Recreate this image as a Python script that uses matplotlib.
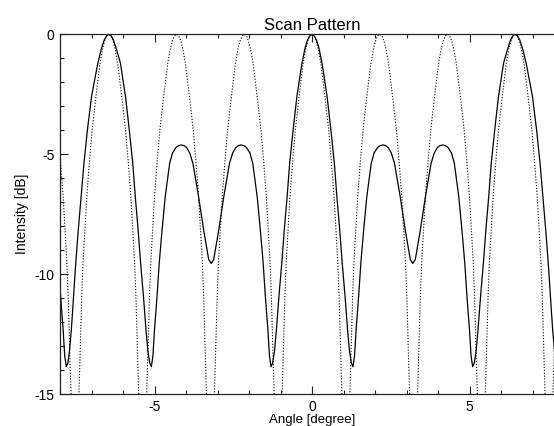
import numpy as np
import matplotlib
matplotlib.use("Agg")
import matplotlib.pyplot as plt
from matplotlib.ticker import MultipleLocator

# ---- data ----
solid_x_left = [-8.05,-7.98,-7.90,-7.85,-7.80,-7.75,-7.70,-7.64,-7.57,-7.50,-7.42,-7.33,-7.24,-7.13,-7.00,-6.80,-6.68,-6.60,-6.52,-6.45,-6.38,-6.30,-6.22,-6.08,-5.92,-5.80,-5.69,-5.61,-5.52,-5.44,-5.35,-5.27,-5.21,-5.15,-5.10,-5.05,-5.00,-4.92,-4.85,-4.76,-4.66,-4.52,-4.43,-4.32,-4.24,-4.15,-4.06,-3.98,-3.88,-3.78,-3.60,-3.44,-3.35,-3.28,-3.20,-3.12,-3.05,-2.96,-2.80,-2.62,-2.52,-2.42,-2.34,-2.25,-2.16,-2.08,-1.97,-1.88,-1.74,-1.64,-1.55,-1.48,-1.40,-1.35,-1.30,-1.25,-1.19,-1.13,-1.05,-0.96,-0.88,-0.79,-0.71,-0.60,-0.48,-0.32,-0.22,-0.15,-0.08]
solid_db_left = [-9.54,-10.93,-12.32,-13.40,-13.85,-13.70,-13.20,-12.32,-10.93,-9.54,-8.15,-6.77,-5.38,-3.99,-2.60,-1.21,-0.57,-0.25,-0.06,0,-0.06,-0.25,-0.57,-1.21,-2.60,-3.99,-5.38,-6.77,-8.15,-9.54,-10.93,-12.32,-13.20,-13.70,-13.85,-13.40,-12.32,-10.93,-9.54,-8.15,-6.77,-5.38,-4.95,-4.72,-4.64,-4.61,-4.64,-4.72,-4.95,-5.38,-6.77,-8.15,-8.85,-9.38,-9.55,-9.38,-8.85,-8.15,-6.77,-5.38,-4.95,-4.72,-4.64,-4.61,-4.64,-4.72,-4.95,-5.38,-6.77,-8.15,-9.54,-10.93,-12.32,-13.40,-13.85,-13.70,-13.20,-12.32,-10.93,-9.54,-8.15,-6.77,-5.38,-3.99,-2.60,-1.21,-0.57,-0.27,-0.08]
solid_x_right = [0.00,0.08,0.15,0.22,0.32,0.48,0.60,0.71,0.79,0.88,0.96,1.05,1.13,1.19,1.25,1.30,1.35,1.40,1.48,1.55,1.64,1.74,1.88,1.97,2.08,2.16,2.25,2.34,2.42,2.52,2.62,2.80,2.96,3.05,3.12,3.20,3.28,3.35,3.44,3.60,3.78,3.88,3.98,4.06,4.15,4.24,4.32,4.43,4.52,4.66,4.76,4.85,4.92,5.00,5.05,5.10,5.15,5.21,5.27,5.35,5.44,5.52,5.61,5.69,5.80,5.92,6.08,6.22,6.30,6.38,6.45,6.52,6.60,6.68,6.80,7.00,7.13,7.24,7.33,7.42,7.50,7.57,7.64,7.70,7.75,7.80,7.85,7.90,7.98,8.05]
solid_db_right = [0,-0.08,-0.27,-0.57,-1.21,-2.60,-3.99,-5.38,-6.77,-8.15,-9.54,-10.93,-12.32,-13.20,-13.70,-13.85,-13.40,-12.32,-10.93,-9.54,-8.15,-6.77,-5.38,-4.95,-4.72,-4.64,-4.61,-4.64,-4.72,-4.95,-5.38,-6.77,-8.15,-8.85,-9.38,-9.55,-9.38,-8.85,-8.15,-6.77,-5.38,-4.95,-4.72,-4.64,-4.61,-4.64,-4.72,-4.95,-5.38,-6.77,-8.15,-9.54,-10.93,-12.32,-13.40,-13.85,-13.70,-13.20,-12.32,-10.93,-9.54,-8.15,-6.77,-5.38,-3.99,-2.60,-1.21,-0.57,-0.25,-0.06,0,-0.06,-0.25,-0.57,-1.21,-2.60,-3.99,-5.38,-6.77,-8.15,-9.54,-10.93,-12.32,-13.20,-13.70,-13.85,-13.40,-12.32,-10.93,-9.54]

# individual beam lobes (dotted): centres and one-sided lobe profile
beam_centers = [-8.60, -6.45, -4.30, -2.15, 0.00, 2.15, 4.30, 6.45, 8.60]
beam_offset = [0.00, 0.07, 0.14, 0.20, 0.28, 0.41, 0.53, 0.62, 0.70, 0.76, 0.82, 0.86, 0.89, 0.92, 0.95, 0.97]
beam_db     = [0.00, -0.07, -0.30, -0.62, -1.21, -2.60, -3.99, -5.38, -6.77, -8.15, -9.54, -10.93, -12.32, -13.71, -15.0, -16.0]

x_ticks = [-5, 0, 5]
y_ticks = [0, -5, -10, -15]

FONT = "Liberation Sans"
plt.rcParams["font.family"] = [FONT, "DejaVu Sans"]
plt.rcParams["axes.unicode_minus"] = False

fig = plt.figure(figsize=(5.54, 4.26), dpi=100)
W, H = 554, 426
ax_left, ax_right, ax_top, ax_bot = 60, 564, 34.3, 394.3
ax = fig.add_axes([ax_left / W, 1 - ax_bot / H, (ax_right - ax_left) / W, (ax_bot - ax_top) / H])

solid_x = solid_x_left + solid_x_right
solid_db = solid_db_left + solid_db_right
ax.plot(solid_x, solid_db, color="black", lw=0.9, solid_joinstyle="round")

off = np.array(beam_offset)
dbv = np.array(beam_db)
for c in beam_centers:
    bx = np.concatenate([c - off[::-1], c + off[1:]])
    by = np.concatenate([dbv[::-1], dbv[1:]])
    ax.plot(bx, by, color="black", lw=0.8, linestyle=(0, (1.0, 1.6)))

ax.set_xlim(-8, 8)
ax.set_ylim(-15, 0)
ax.set_xticks(x_ticks)
ax.set_yticks(y_ticks)
ax.xaxis.set_minor_locator(MultipleLocator(1))
ax.yaxis.set_minor_locator(MultipleLocator(1))
ax.tick_params(which="both", direction="in", top=True, right=True, colors="#222222",
               labelsize=10, width=0.8)
ax.tick_params(which="major", length=6)
ax.tick_params(which="minor", length=3.2)
ax.tick_params(axis="x", pad=4)
ax.tick_params(axis="y", pad=4)
for lab in ax.get_xticklabels() + ax.get_yticklabels():
    lab.set_color("black")
for s in ax.spines.values():
    s.set_linewidth(0.9)
    s.set_color("#222222")

ax.set_title("Scan Pattern", fontsize=12, pad=3)
ax.set_xlabel("Angle [degree]", fontsize=9.5, labelpad=0.2)
ax.set_ylabel("Intensity [dB]", fontsize=10, labelpad=4)

fig.savefig("out.png", dpi=100)
